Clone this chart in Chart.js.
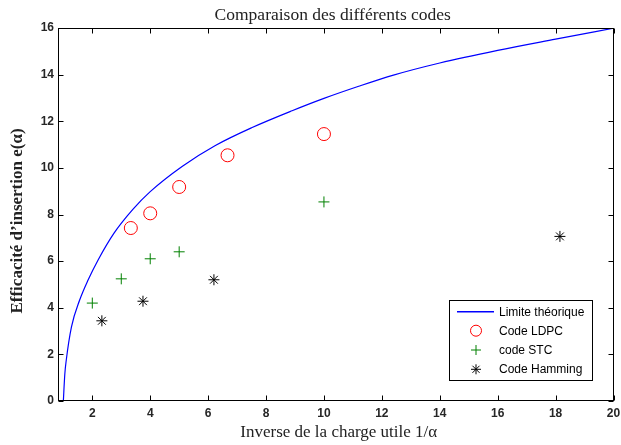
<!DOCTYPE html>
<html>
<head>
<meta charset="utf-8">
<script src="https://cdn.jsdelivr.net/npm/chart.js@4/dist/chart.umd.min.js"></script>
<style>
  html, body { margin: 0; padding: 0; background: #fff; }
  #wrap { position: relative; width: 621px; height: 445px; }
</style>
</head>
<body>
<div id="wrap"><canvas id="c" width="621" height="445"></canvas></div>
<script>
// ---- data ----
const limitX = [1, 1.05, 1.1, 1.28, 1.56, 1.85, 2.2, 2.75, 3.4, 4, 5.1, 6.25, 7.5, 8.9, 10, 11.2, 12.4, 14, 16, 18, 20];
const limitY = [0, 1.15, 1.75, 3.18, 4.32, 5.18, 6.05, 7.2, 8.22, 8.98, 10.06, 10.96, 11.72, 12.45, 12.98, 13.5, 13.98, 14.5, 15.04, 15.52, 15.99];

const ldpcX = [3.33, 4, 5, 6.67, 10];
const ldpcY = [7.42, 8.05, 9.18, 10.54, 11.45];

const stcX = [2, 3, 4, 5, 10];
const stcY = [4.2, 5.24, 6.1, 6.4, 8.54];

const hammingX = [2.33, 3.75, 6.2, 18.15];
const hammingY = [3.44, 4.28, 5.2, 7.06];

const xTicks = [2, 4, 6, 8, 10, 12, 14, 16, 18, 20];
const yTicks = [0, 2, 4, 6, 8, 10, 12, 14, 16];

const titleText = 'Comparaison des différents codes';
const xTitle = 'Inverse de la charge utile 1/\u03B1';
const yTitle = 'Efficacité d\u2019insertion e(\u03B1)';
const legendLabels = ['Limite théorique', 'Code LDPC', 'code STC', 'Code Hamming'];

const zip = (xs, ys) => xs.map((x, i) => ({ x: x, y: ys[i] }));

function drawMarker(ctx, style, x, y, r, color) {
  ctx.save();
  ctx.strokeStyle = color;
  ctx.lineWidth = 1;
  ctx.beginPath();
  if (style === 'circle') {
    ctx.arc(x, y, r, 0, Math.PI * 2);
  } else if (style === 'cross') {
    ctx.moveTo(x - r, y); ctx.lineTo(x + r, y);
    ctx.moveTo(x, y - r); ctx.lineTo(x, y + r);
  } else if (style === 'star') {
    ctx.moveTo(x - r, y); ctx.lineTo(x + r, y);
    ctx.moveTo(x, y - r); ctx.lineTo(x, y + r);
    const d = r * 0.7071;
    ctx.moveTo(x - d, y - d); ctx.lineTo(x + d, y + d);
    ctx.moveTo(x - d, y + d); ctx.lineTo(x + d, y - d);
  }
  ctx.stroke();
  ctx.restore();
}

const decorPlugin = {
  id: 'decor',
  afterDraw(chart) {
    const ctx = chart.ctx;
    const a = chart.chartArea;
    const xs = chart.scales.x, ys = chart.scales.y;
    ctx.save();
    // box
    ctx.strokeStyle = '#000';
    ctx.lineWidth = 1;
    const L = Math.round(a.left) + 0.5, R = Math.round(a.right) - 0.5;
    const T = Math.round(a.top) + 0.5, B = Math.round(a.bottom) - 0.5;
    ctx.strokeRect(L, T, R - L, B - T);
    // inward ticks on all four sides
    ctx.beginPath();
    const tl = 5;
    xTicks.forEach(v => {
      const px = Math.round(xs.getPixelForValue(v)) + 0.5;
      ctx.moveTo(px, B); ctx.lineTo(px, B - tl);
      ctx.moveTo(px, T); ctx.lineTo(px, T + tl);
    });
    yTicks.forEach(v => {
      const py = Math.round(ys.getPixelForValue(v)) + 0.5;
      ctx.moveTo(L, py); ctx.lineTo(L + tl, py);
      ctx.moveTo(R, py); ctx.lineTo(R - tl, py);
    });
    ctx.stroke();

    // title
    const cx = (a.left + a.right) / 2;
    ctx.fillStyle = '#222';
    ctx.textAlign = 'center';
    ctx.textBaseline = 'middle';
    ctx.font = '17.5px "Liberation Serif"';
    ctx.fillText(titleText, cx - 3, 15);
    // x title
    ctx.font = '17px "Liberation Serif"';
    ctx.fillText(xTitle, cx + 3, 433);
    // y title
    ctx.save();
    ctx.translate(18, 221);
    ctx.rotate(-Math.PI / 2);
    ctx.font = 'bold 17px "Liberation Serif"';
    ctx.fillText(yTitle, 0, 0);
    ctx.restore();

    // legend
    const lx = 449.5, ly = 300.5, lw = 143, lh = 80;
    ctx.fillStyle = '#fff';
    ctx.fillRect(lx, ly, lw, lh);
    ctx.strokeStyle = '#000';
    ctx.strokeRect(lx, ly, lw, lh);
    const rows = [311.7, 330.7, 350, 369.3];
    ctx.font = '12px "Liberation Sans"';
    ctx.textAlign = 'left';
    ctx.textBaseline = 'middle';
    // line sample
    ctx.strokeStyle = '#0000ff';
    ctx.lineWidth = 1.5;
    ctx.beginPath();
    ctx.moveTo(457, rows[0]); ctx.lineTo(494, rows[0]);
    ctx.stroke();
    drawMarker(ctx, 'circle', 476, rows[1], 5.5, '#ff0000');
    drawMarker(ctx, 'cross', 476, rows[2], 5, '#008000');
    drawMarker(ctx, 'star', 476, rows[3], 5, '#000000');
    ctx.fillStyle = '#000';
    legendLabels.forEach((t, i) => ctx.fillText(t, 499, rows[i] + 0.5));
    ctx.restore();
  }
};

new Chart(document.getElementById('c'), {
  type: 'scatter',
  data: {
    datasets: [
      {
        label: legendLabels[0],
        data: zip(limitX, limitY),
        showLine: true,
        borderColor: '#0000ff',
        borderWidth: 1.2,
        pointRadius: 0,
        cubicInterpolationMode: 'monotone',
        fill: false
      },
      {
        label: legendLabels[1],
        data: zip(ldpcX, ldpcY),
        pointStyle: 'circle',
        pointRadius: 6.5,
        pointBorderColor: '#ff0000',
        pointBackgroundColor: 'rgba(0,0,0,0)',
        pointBorderWidth: 1
      },
      {
        label: legendLabels[2],
        data: zip(stcX, stcY),
        pointStyle: 'cross',
        pointRadius: 5.5,
        pointBorderColor: '#008000',
        pointBackgroundColor: '#008000',
        pointBorderWidth: 1
      },
      {
        label: legendLabels[3],
        data: zip(hammingX, hammingY),
        pointStyle: 'star',
        pointRadius: 5.5,
        pointBorderColor: '#000000',
        pointBackgroundColor: '#000000',
        pointBorderWidth: 1
      }
    ]
  },
  options: {
    responsive: false,
    animation: false,
    events: [],
    layout: { padding: { top: 28, right: 6, left: 0, bottom: 0 } },
    plugins: { legend: { display: false }, title: { display: false }, tooltip: { enabled: false } },
    scales: {
      x: {
        type: 'linear',
        min: 0.815,
        max: 20,
        afterBuildTicks: s => { s.ticks = xTicks.map(v => ({ value: v })); },
        afterFit: s => { s.height = 44; s.paddingLeft = 0; s.paddingRight = 0; },
        grid: { display: false, drawTicks: false },
        border: { display: false },
        ticks: { color: '#262626', font: { family: 'Liberation Sans', size: 12, weight: 'bold' }, padding: 5, maxRotation: 0, autoSkip: false }
      },
      y: {
        type: 'linear',
        min: 0,
        max: 16,
        afterBuildTicks: s => { s.ticks = yTicks.map(v => ({ value: v })); },
        afterFit: s => { s.width = 58; s.paddingTop = 0; s.paddingBottom = 0; },
        grid: { display: false, drawTicks: false },
        border: { display: false },
        ticks: { color: '#262626', font: { family: 'Liberation Sans', size: 12, weight: 'bold' }, padding: 4, autoSkip: false }
      }
    }
  },
  plugins: [decorPlugin]
});
</script>
</body>
</html>
